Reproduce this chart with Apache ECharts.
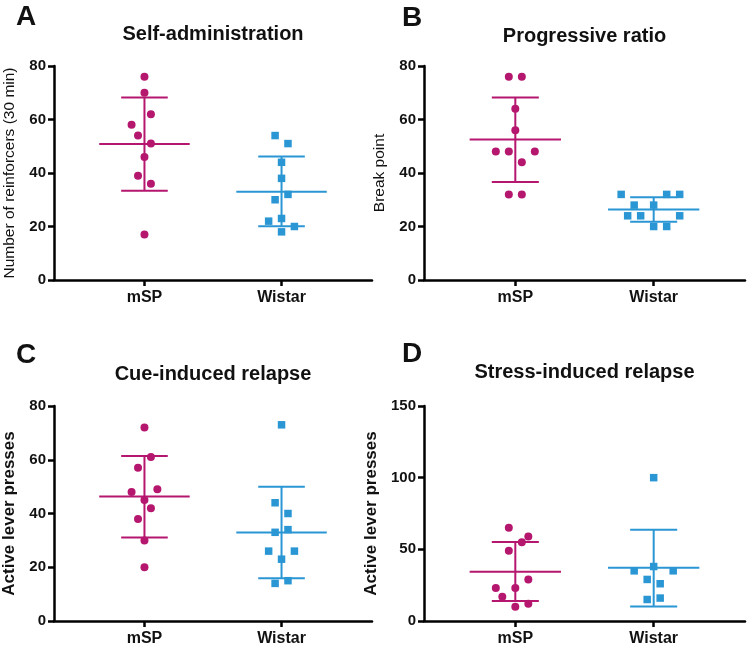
<!DOCTYPE html>
<html>
<head>
<meta charset="utf-8">
<script src="https://cdn.jsdelivr.net/npm/echarts@6/dist/echarts.min.js"></script>
<style>
  html, body { margin: 0; padding: 0; background: #fff; }
  #main { width: 750px; height: 649px; }
</style>
</head>
<body>
<div id="main"></div>
<script>
// groups on the x axis (placed at x = 1 and x = 2)
const categories = ['mSP', 'Wistar'];
const panelLetters = ['A', 'B', 'C', 'D'];
const panelTitles = ['Self-administration', 'Progressive ratio', 'Cue-induced relapse', 'Stress-induced relapse'];
const yNames = ['Number of reinforcers (30 min)', 'Break point', 'Active lever presses', 'Active lever presses'];
const yMax = [80, 80, 80, 150];
const yStep = [20, 20, 20, 50];

// jitter given in steps, one step = JITTER category units
const JITTER = 0.047;

// A - self-administration
const selfAdmMSP = [76, 70, 62, 58, 54, 51, 46, 39, 36, 17];
const selfAdmMSPJitter = [0, 0, 1, -2, -1, 1, 0, -1, 1, 0];
const selfAdmWistar = [54, 51, 44, 38, 32, 30, 23, 22, 20, 18];
const selfAdmWistarJitter = [-1, 1, 0, 0, 1, -1, 0, -2, 2, 0];
const selfAdmStats = [[50.8, 33.4, 68.2], [33.0, 20.1, 46.2]]; // mean, mean-SD, mean+SD

// B - progressive ratio
const prMSP = [76, 76, 64, 56, 48, 48, 48, 44, 32, 32];
const prMSPJitter = [-1, 1, 0, 0, -3, -1, 3, 1, -1, 1];
const prWistar = [32, 32, 32, 28, 28, 24, 24, 24, 20, 20];
const prWistarJitter = [-5, 2, 4, -3, 0, -4, -2, 4, 0, 2];
const prStats = [[52.5, 36.6, 68.2], [26.4, 21.8, 30.9]];

// C - cue-induced relapse
const cueMSP = [72, 61, 57, 48, 49, 45, 42, 38, 30, 20];
const cueMSPJitter = [0, 1, -1, -2, 2, 0, 1, -1, 0, 0];
const cueWistar = [73, 44, 40, 34, 33, 26, 26, 23, 14, 15];
const cueWistarJitter = [0, -1, 1, 1, -1, -2, 2, 0, -1, 1];
const cueStats = [[46.3, 31.1, 61.4], [32.9, 15.9, 50.0]];

// D - stress-induced relapse
const stressMSP = [65, 59, 55, 49, 29, 23, 23, 17, 10, 12];
const stressMSPJitter = [-1, 2, 1, -1, 2, -3, 0, -2, 0, 2];
const stressWistar = [100, 38, 35, 35, 29, 26, 15, 16];
const stressWistarJitter = [0, 0, -3, 3, -1, 1, -1, 1];
const stressStats = [[34.4, 14.0, 55.1], [37.2, 10.2, 63.7]];

const panels = [
  { msp: selfAdmMSP, mspJ: selfAdmMSPJitter, wis: selfAdmWistar, wisJ: selfAdmWistarJitter, stats: selfAdmStats },
  { msp: prMSP, mspJ: prMSPJitter, wis: prWistar, wisJ: prWistarJitter, stats: prStats },
  { msp: cueMSP, mspJ: cueMSPJitter, wis: cueWistar, wisJ: cueWistarJitter, stats: cueStats },
  { msp: stressMSP, mspJ: stressMSPJitter, wis: stressWistar, wisJ: stressWistarJitter, stats: stressStats }
];

const MAGENTA = '#B5166E';
const BLUE = '#2A96D4';
const FONT = 'Liberation Sans, Arial, sans-serif';

const grids = [
  { left: 54, top: 66, width: 318, height: 214 },
  { left: 424, top: 66, width: 321, height: 214 },
  { left: 54, top: 406, width: 318, height: 215 },
  { left: 424, top: 406, width: 321, height: 215 }
].map(function (g) {
  g.containLabel = false;
  g.outerBoundsMode = 'none';
  return g;
});
const letterPos = [[16, 3], [402, 4], [16, 341], [402, 340]];
const titleTop = [24, 26, 364, 362];
const nameGaps = [36, 36, 36, 44];

function errorBar(color) {
  return function (params, api) {
    const x = api.value(0);
    const c = api.coord([x, api.value(1)]);
    const lo = api.coord([x, api.value(2)]);
    const hi = api.coord([x, api.value(3)]);
    const unit = api.size([1, 0])[0];
    const mh = unit * 0.33, ch = unit * 0.17;
    const style = { stroke: color, lineWidth: 2 };
    return {
      type: 'group',
      children: [
        { type: 'line', shape: { x1: c[0] - mh, y1: c[1], x2: c[0] + mh, y2: c[1] }, style: style },
        { type: 'line', shape: { x1: c[0], y1: lo[1], x2: c[0], y2: hi[1] }, style: style },
        { type: 'line', shape: { x1: c[0] - ch, y1: lo[1], x2: c[0] + ch, y2: lo[1] }, style: style },
        { type: 'line', shape: { x1: c[0] - ch, y1: hi[1], x2: c[0] + ch, y2: hi[1] }, style: style }
      ]
    };
  };
}

const titles = [];
const xAxes = [];
const yAxes = [];
const series = [];

panels.forEach(function (p, i) {
  const g = grids[i];
  titles.push({
    text: panelLetters[i], left: letterPos[i][0], top: letterPos[i][1], padding: 0,
    textStyle: { fontFamily: FONT, fontSize: 28, fontWeight: 'bold', color: '#111' }
  });
  titles.push({
    text: panelTitles[i], left: g.left + g.width / 2, top: titleTop[i], textAlign: 'center', padding: 0,
    textStyle: { fontFamily: FONT, fontSize: 20, fontWeight: 'bold', color: '#111' }
  });
  xAxes.push({
    gridIndex: i, type: 'value', min: 0.34, max: 2.66,
    axisLine: { show: true, lineStyle: { color: '#000', width: 2.5 } },
    axisTick: { show: true, customValues: [1, 2], length: 6, lineStyle: { color: '#000', width: 2.5 } },
    axisLabel: {
      customValues: [1, 2], margin: 10, color: '#111', fontFamily: FONT, fontSize: 16, fontWeight: 'bold',
      formatter: function (v) { return categories[Math.round(v) - 1]; }
    },
    splitLine: { show: false }
  });
  const bold = i >= 2;
  yAxes.push({
    gridIndex: i, type: 'value', min: 0, max: yMax[i], interval: yStep[i],
    name: yNames[i], nameLocation: 'middle', nameGap: nameGaps[i],
    nameTextStyle: {
      fontFamily: FONT, color: '#111',
      fontSize: bold ? 17 : 15.5, fontWeight: bold ? 'bold' : 'normal'
    },
    axisLine: { show: true, lineStyle: { color: '#000', width: 2.5 } },
    axisTick: { show: true, length: 6, lineStyle: { color: '#000', width: 2.5 } },
    axisLabel: { margin: 8, color: '#111', fontFamily: FONT, fontSize: 15, fontWeight: 'bold' },
    splitLine: { show: false }
  });
  series.push({
    type: 'custom', xAxisIndex: i, yAxisIndex: i, renderItem: errorBar(MAGENTA),
    data: [[1].concat(p.stats[0])], encode: { x: 0, y: [1, 2, 3] }, silent: true, z: 2
  });
  series.push({
    type: 'custom', xAxisIndex: i, yAxisIndex: i, renderItem: errorBar(BLUE),
    data: [[2].concat(p.stats[1])], encode: { x: 0, y: [1, 2, 3] }, silent: true, z: 2
  });
  series.push({
    type: 'scatter', xAxisIndex: i, yAxisIndex: i, symbol: 'circle', symbolSize: 8,
    itemStyle: { color: MAGENTA, opacity: 1 }, z: 3,
    data: p.msp.map(function (v, k) { return [1 + p.mspJ[k] * JITTER, v]; })
  });
  series.push({
    type: 'scatter', xAxisIndex: i, yAxisIndex: i, symbol: 'rect', symbolSize: 7.5,
    itemStyle: { color: BLUE, opacity: 1 }, z: 3,
    data: p.wis.map(function (v, k) { return [2 + p.wisJ[k] * JITTER, v]; })
  });
});

const chart = echarts.init(document.getElementById('main'));
chart.setOption({
  animation: false,
  backgroundColor: '#fff',
  title: titles,
  grid: grids,
  xAxis: xAxes,
  yAxis: yAxes,
  series: series
});
</script>
</body>
</html>
